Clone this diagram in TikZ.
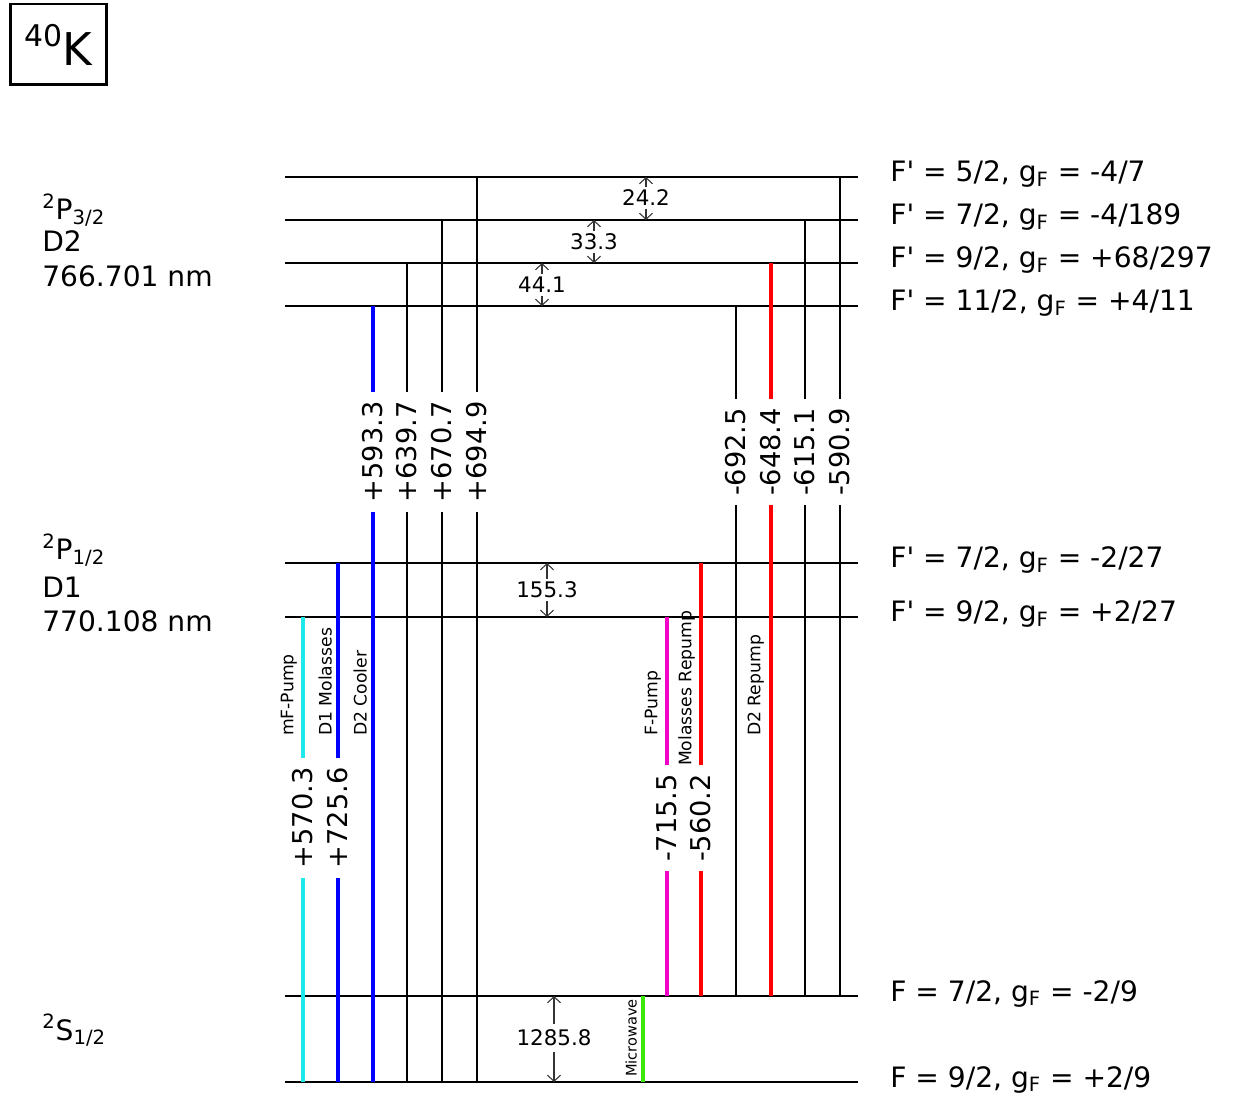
\documentclass[tikz,border=0pt]{standalone}
\usepackage{fontspec}
\setmainfont{DejaVu Sans}[Ligatures=TeXOff]
\usetikzlibrary{arrows.meta}

\definecolor{pumpcyan}{RGB}{30,232,232}
\definecolor{pumpmag}{RGB}{240,0,200}
\definecolor{mwgreen}{RGB}{60,232,10}

\begin{document}
\begin{tikzpicture}[
  x=0.02cm, y=-0.02cm,
  hfs/.style={line width=1.2pt},
  trans/.style={line width=1.2pt},
  laser/.style={line width=2.6pt},
  freq/.style={rotate=90, inner xsep=5pt, inner ysep=0pt, font=\fontsize{15.5}{18}\selectfont},
  beam/.style={rotate=90, anchor=south west, inner sep=1pt, font=\fontsize{9.8}{12}\selectfont},
  hfarrow/.style={line width=0.6pt, black!80, -{Straight Barb[length=3.5pt,width=7.5pt]}},
  hflabel/.style={inner sep=1.5pt, font=\fontsize{12.2}{14}\selectfont},
  lvltext/.style={anchor=base west, inner sep=0pt, font=\fontsize{16}{19}\selectfont}
]
  \useasboundingbox (0,0) rectangle (1238,1097);

  % Isotope
  \node[draw, line width=1.7pt, minimum width=1.94cm, minimum height=1.62cm, inner sep=0pt] (iso) at (58.5,44.5)
    {{\fontsize{17}{17}\selectfont\raisebox{10.8pt}{40}}{\fontsize{25.7}{26}\selectfont K}};

  % Levels
  \coordinate (e52) at (285,177);
  \coordinate (e72) at (285,220);
  \coordinate (e92) at (285,263);
  \coordinate (e112) at (285,306);
  \coordinate (d72) at (285,563);
  \coordinate (d92) at (285,617);
  \coordinate (g72) at (285,996);
  \coordinate (g92) at (285,1082);

  \draw[hfs] (e52) -- ++(573,0);
  \draw[hfs] (e72) -- ++(573,0);
  \draw[hfs] (e92) -- ++(573,0);
  \draw[hfs] (e112) -- ++(573,0);
  \draw[hfs] (d72) -- ++(573,0);
  \draw[hfs] (d92) -- ++(573,0);
  \draw[hfs] (g72) -- ++(573,0);
  \draw[hfs] (g92) -- ++(573,0);

  % Term labels
  \node[lvltext] (p3term) at (42,220) {\textsuperscript{2}P\textsubscript{3/2}};
  \node[lvltext] (p3name) at (42,252) {D2};
  \node[lvltext] (p3wave) at (42,287) {766.701 nm};
  \node[lvltext] (p1term) at (42,560) {\textsuperscript{2}P\textsubscript{1/2}};
  \node[lvltext] (p1name) at (42,598) {D1};
  \node[lvltext] (p1wave) at (42,632) {770.108 nm};
  \node[lvltext] (s1term) at (42,1040) {\textsuperscript{2}S\textsubscript{1/2}};

  % State labels
  \node[lvltext] (le52) at (890,182) {F' = 5/2, g\textsubscript{F} = -4/7};
  \node[lvltext] (le72) at (890,225) {F' = 7/2, g\textsubscript{F} = -4/189};
  \node[lvltext] (le92) at (890,268) {F' = 9/2, g\textsubscript{F} = +68/297};
  \node[lvltext] (le112) at (890,311) {F' = 11/2, g\textsubscript{F} = +4/11};
  \node[lvltext] (ld72) at (890,568) {F' = 7/2, g\textsubscript{F} = -2/27};
  \node[lvltext] (ld92) at (890,622) {F' = 9/2, g\textsubscript{F} = +2/27};
  \node[lvltext] (lg72) at (890,1001) {F = 7/2, g\textsubscript{F} = -2/9};
  \node[lvltext] (lg92) at (890,1087) {F = 9/2, g\textsubscript{F} = +2/9};

  % Transitions from F = 9/2
  \node[freq] (t1) at (303,818) {+570.3};
  \node[freq] (t2) at (338,818) {+725.6};
  \node[freq] (t3) at (373,452) {+593.3};
  \node[freq] (t4) at (407,452) {+639.7};
  \node[freq] (t5) at (442,452) {+670.7};
  \node[freq] (t6) at (477,452) {+694.9};

  \draw[laser, pumpcyan] (t1 |- g92) -- (t1) -- (t1 |- d92);
  \draw[laser, blue] (t2 |- g92) -- (t2) -- (t2 |- d72);
  \draw[laser, blue] (t3 |- g92) -- (t3) -- (t3 |- e112);
  \draw[trans] (t4 |- g92) -- (t4) -- (t4 |- e92);
  \draw[trans] (t5 |- g92) -- (t5) -- (t5 |- e72);
  \draw[trans] (t6 |- g92) -- (t6) -- (t6 |- e52);

  % Transitions from F = 7/2
  \node[freq] (t7) at (667,818) {-715.5};
  \node[freq] (t8) at (701,818) {-560.2};
  \node[freq] (t9) at (736,452) {-692.5};
  \node[freq] (t10) at (771,452) {-648.4};
  \node[freq] (t11) at (805,452) {-615.1};
  \node[freq] (t12) at (840,452) {-590.9};

  \draw[laser, pumpmag] (t7 |- g72) -- (t7) -- (t7 |- d92);
  \draw[laser, red] (t8 |- g72) -- (t8) -- (t8 |- d72);
  \draw[trans] (t9 |- g72) -- (t9) -- (t9 |- e112);
  \draw[laser, red] (t10 |- g72) -- (t10) -- (t10 |- e92);
  \draw[trans] (t11 |- g72) -- (t11) -- (t11 |- e72);
  \draw[trans] (t12 |- g72) -- (t12) -- (t12 |- e52);

  % Microwave
  \coordinate (mw) at (643,1040);
  \draw[laser, mwgreen] (mw |- g92) -- (mw |- g72);

  % Beam names
  \node[beam] (b1) at (299,738) {mF-Pump};
  \node[beam] (b2) at (334,738) {D1 Molasses};
  \node[beam] (b3) at (369,738) {D2 Cooler};
  \node[beam] (b7) at (663,738) {F-Pump};
  \node[beam] (b8) at (697,768) {Molasses Repump};
  \node[beam] (b10) at (766,738) {D2 Repump};
  \node[beam, font=\fontsize{8.3}{10}\selectfont] (bmw) at (639,1079) {Microwave};

  % Hyperfine splittings
  \node[hflabel] (s1) at (646,198) {24.2};
  \node[hflabel] (s2) at (594,242) {33.3};
  \node[hflabel] (s3) at (542,285) {44.1};
  \node[hflabel] (s4) at (547,590) {155.3};
  \node[hflabel, inner sep=3pt] (s5) at (554,1038) {1285.8};

  \draw[hfarrow] (s1) -- (s1 |- e52);
  \draw[hfarrow] (s1) -- (s1 |- e72);
  \draw[hfarrow] (s2) -- (s2 |- e72);
  \draw[hfarrow] (s2) -- (s2 |- e92);
  \draw[hfarrow] (s3) -- (s3 |- e92);
  \draw[hfarrow] (s3) -- (s3 |- e112);
  \draw[hfarrow] (s4) -- (s4 |- d72);
  \draw[hfarrow] (s4) -- (s4 |- d92);
  \draw[hfarrow] (s5) -- (s5 |- g72);
  \draw[hfarrow] (s5) -- (s5 |- g92);
\end{tikzpicture}
\end{document}
